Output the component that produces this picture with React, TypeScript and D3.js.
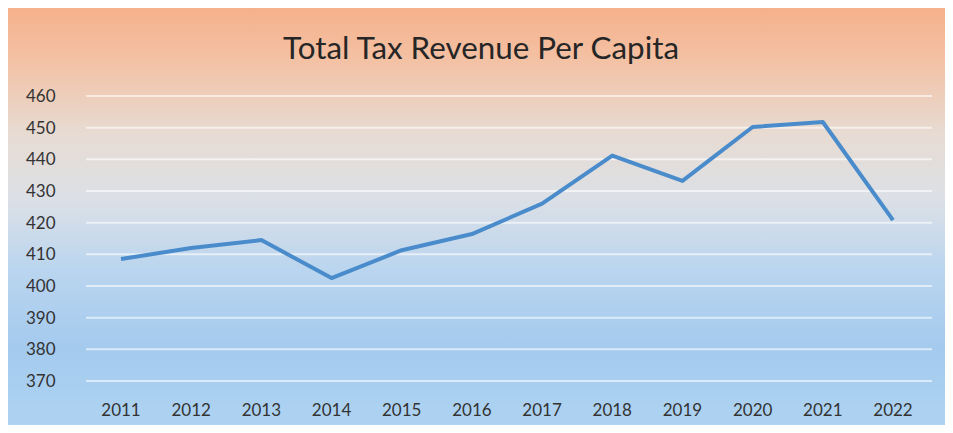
import React, { useRef, useEffect } from 'react';
import * as d3 from 'd3';

const years = ['2011', '2012', '2013', '2014', '2015', '2016', '2017', '2018', '2019', '2020', '2021', '2022'];
const revenue = [408.5, 412, 414.5, 402.5, 411.3, 416.4, 426, 441.2, 433.2, 450.2, 451.8, 420.8];
const yTicks = [370, 380, 390, 400, 410, 420, 430, 440, 450, 460];

const width = 953;
const height = 433;

const renderChart = (el: SVGSVGElement) => {
	const svg = d3.select(el);
	svg.selectAll('*').remove();

	const defs = svg.append('defs');
	const grad = defs.append('linearGradient')
		.attr('id', 'bg')
		.attr('x1', 0).attr('y1', 0).attr('x2', 0).attr('y2', 1);
	[
		['0%', '#f5b08a'],
		['12%', '#f4c0a2'],
		['30%', '#e7dbd2'],
		['45%', '#dce0e6'],
		['62%', '#bad5ef'],
		['80%', '#a4caee'],
		['100%', '#afd4f2'],
	].forEach(([o, c]) => grad.append('stop').attr('offset', o).attr('stop-color', c));

	svg.append('rect').attr('width', width).attr('height', height).attr('fill', '#ffffff');
	svg.append('rect')
		.attr('x', 5).attr('y', 5)
		.attr('width', width - 5).attr('height', height - 5)
		.attr('fill', 'url(#bg)');

	const x = d3.scalePoint().domain(years).range([121, 893]);
	const y = d3.scaleLinear().domain([370, 460]).range([381, 96]);

	// gridlines
	svg.append('g')
		.selectAll('line')
		.data(yTicks)
		.join('line')
		.attr('x1', 86).attr('x2', 932)
		.attr('y1', (d) => y(d)).attr('y2', (d) => y(d))
		.attr('stroke', '#ffffff')
		.attr('stroke-opacity', 0.6)
		.attr('stroke-width', 2);

	const font = 'Lato, "Open Sans", sans-serif';

	svg.append('text')
		.attr('x', 481).attr('y', 59)
		.attr('text-anchor', 'middle')
		.attr('font-family', font)
		.attr('font-size', 30)
		.attr('textLength', 396)
		.attr('lengthAdjust', 'spacingAndGlyphs')
		.attr('fill', '#262626')
		.text('Total Tax Revenue Per Capita');

	svg.append('g')
		.selectAll('text')
		.data(yTicks)
		.join('text')
		.attr('x', 26)
		.attr('y', (d) => y(d))
		.attr('dy', '0.36em')
		.attr('font-family', font)
		.attr('font-size', 17)
		.attr('fill', '#333333')
		.text((d) => d);

	svg.append('g')
		.selectAll('text')
		.data(years)
		.join('text')
		.attr('x', (d) => x(d) as number)
		.attr('y', 410)
		.attr('dy', '0.36em')
		.attr('text-anchor', 'middle')
		.attr('font-family', font)
		.attr('font-size', 17)
		.attr('fill', '#333333')
		.text((d) => d);

	const line = d3.line<number>()
		.x((_, i) => x(years[i]) as number)
		.y((d) => y(d));

	svg.append('path')
		.datum(revenue)
		.attr('d', line)
		.attr('fill', 'none')
		.attr('stroke', '#4a8ccb')
		.attr('stroke-width', 4)
		.attr('stroke-linejoin', 'round');
};

const App = () => {
	const ref = useRef<SVGSVGElement>(null);

	useEffect(() => {
		if (ref.current) renderChart(ref.current);
	}, []);

	return (
		<div style={{ margin: -8 }}>
			<svg ref={ref} width={width} height={height} style={{ display: 'block' }} />
		</div>
	);
};

export default App;
